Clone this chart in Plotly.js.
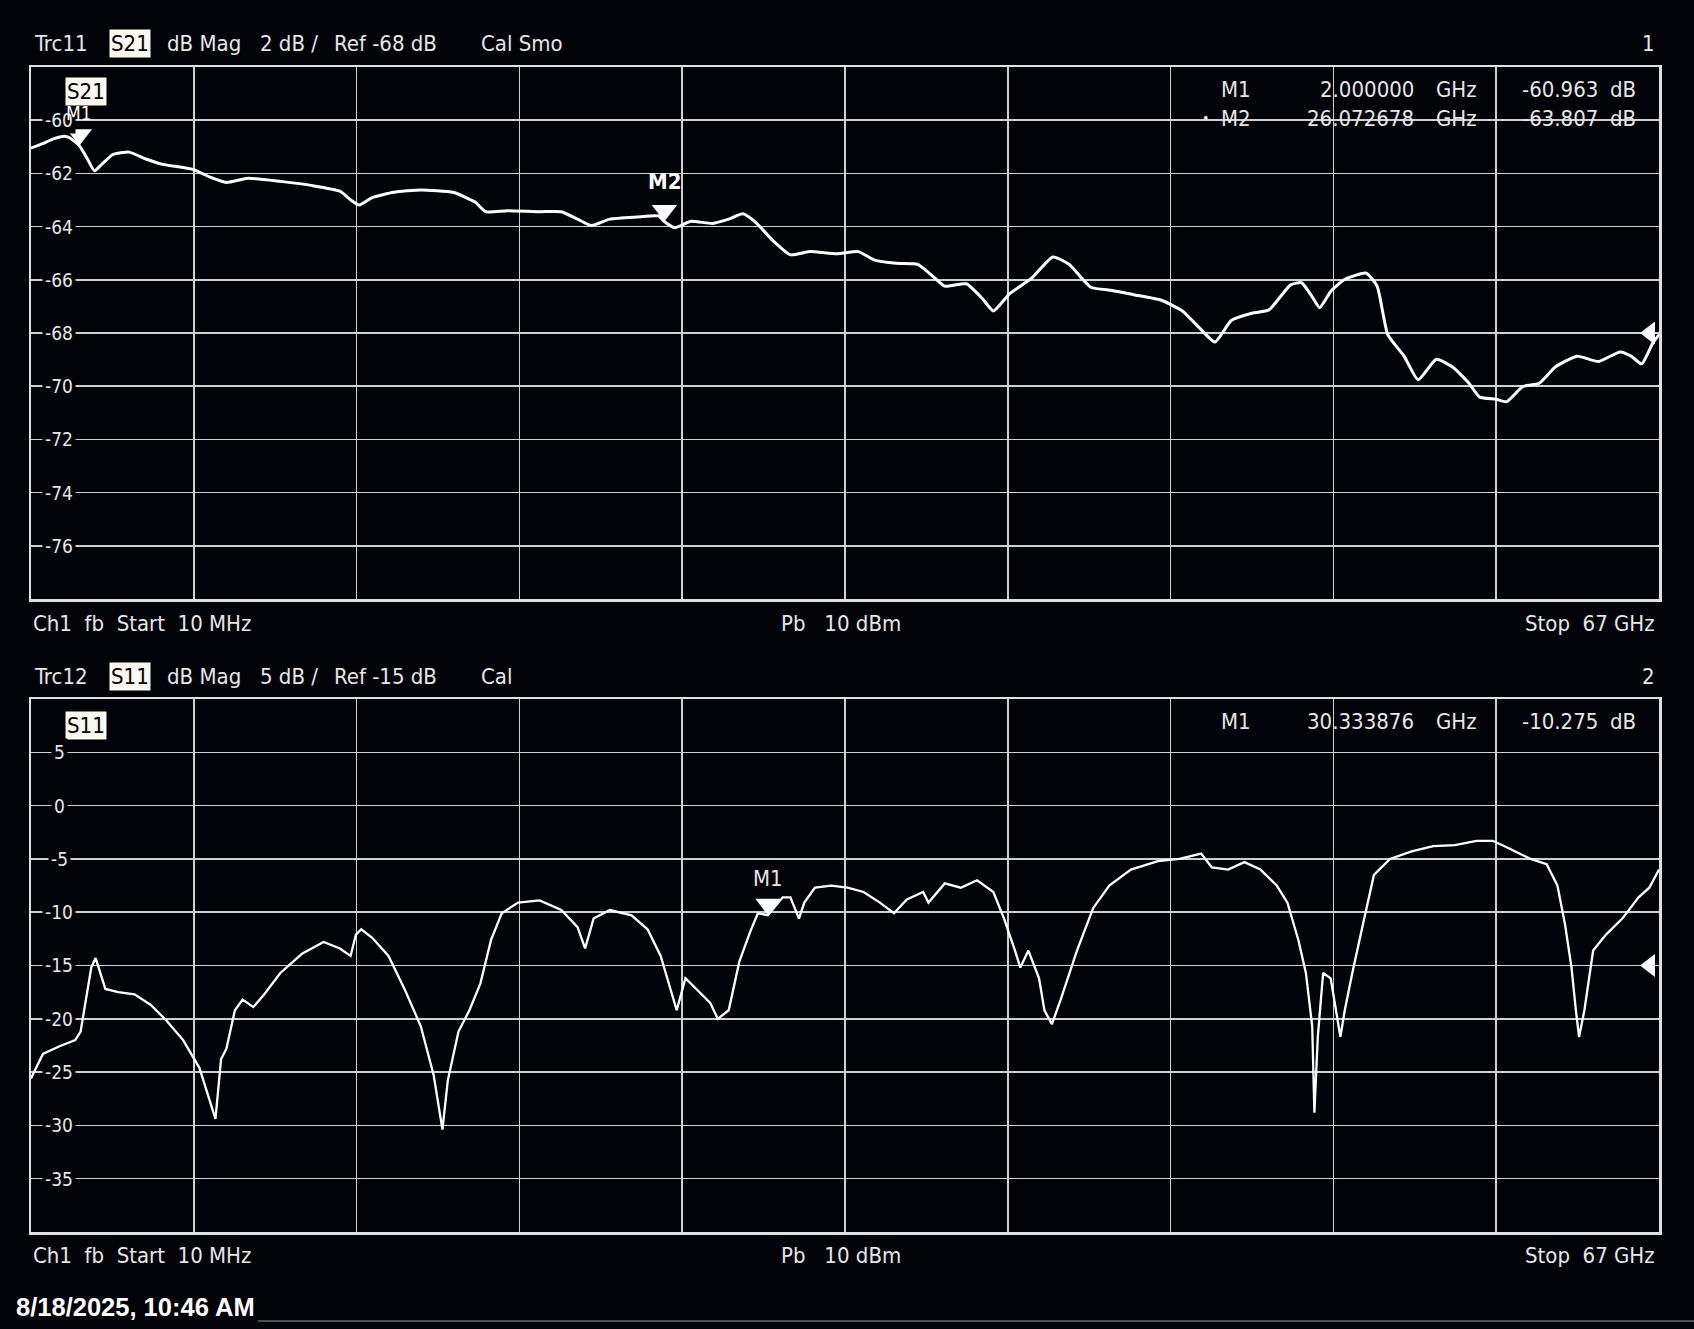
<!DOCTYPE html>
<html>
<head>
<meta charset="utf-8">
<script src="https://cdn.plot.ly/plotly-3.0.1.min.js"></script>
<style>
  html, body { margin:0; padding:0; background:#020308; }
  #chart { width:1694px; height:1329px; }
</style>
</head>
<body>
<div id="chart"></div>
<script>
// ---------------- DATA ----------------
// S21 (Trc11), frequency in GHz, magnitude in dB
const s21Freq = [0.01,0.49,0.93,1.38,1.6,2.0,2.3,2.62,2.93,3.38,4.05,4.71,5.38,6.67,7.38,8.05,8.94,10.27,11.6,12.72,13.16,13.52,14.05,14.94,16.05,17.38,18.27,18.72,19.61,20.94,21.83,22.5,23.07,23.83,24.94,25.83,26.07,26.5,27.17,28.05,28.72,29.3,29.83,30.5,31.26,32.06,33.17,34.06,34.72,35.61,36.5,37.17,37.61,38.5,39.17,39.61,40.28,41.17,42.06,42.73,43.62,44.5,45.39,46.5,47.39,48.06,48.73,49.4,50.28,50.95,51.84,52.29,52.73,53.04,53.49,54.06,54.95,55.4,55.84,56.51,57.09,57.84,58.51,59.18,59.62,60.29,60.73,61.4,62.07,62.73,63.62,64.51,65.4,65.85,66.29,66.74,67.0];
const s21dB   = [-61.05,-60.88,-60.7,-60.6,-60.66,-60.96,-61.4,-61.9,-61.65,-61.29,-61.2,-61.45,-61.65,-61.85,-62.14,-62.34,-62.18,-62.3,-62.46,-62.67,-62.99,-63.19,-62.91,-62.71,-62.62,-62.71,-63.07,-63.44,-63.4,-63.44,-63.44,-63.72,-63.96,-63.72,-63.64,-63.6,-63.81,-64.04,-63.8,-63.88,-63.72,-63.52,-63.84,-64.49,-65.06,-64.94,-65.02,-64.94,-65.26,-65.38,-65.42,-65.91,-66.24,-66.15,-66.72,-67.17,-66.52,-65.95,-65.14,-65.42,-66.28,-66.4,-66.56,-66.76,-67.17,-67.78,-68.34,-67.53,-67.25,-67.13,-66.19,-66.11,-66.64,-67.05,-66.44,-65.99,-65.75,-66.24,-68.06,-68.87,-69.76,-68.99,-69.28,-69.89,-70.41,-70.49,-70.58,-70.01,-69.89,-69.28,-68.87,-69.07,-68.71,-68.87,-69.16,-68.39,-68.06];

// S11 (Trc12)
const s11Freq = [0.01,0.5,1.16,1.83,2.05,2.27,2.49,2.67,2.85,3.07,3.6,4.27,4.94,5.6,6.27,6.94,7.38,7.6,7.83,8.05,8.4,8.72,9.16,9.61,10.27,11.16,12.05,12.72,13.16,13.38,13.6,14.05,14.72,15.38,16.05,16.58,16.94,17.16,17.6,18.05,18.5,18.94,19.38,20.05,20.94,21.83,22.5,22.81,23.16,23.83,24.72,25.38,25.92,26.27,26.58,26.94,27.38,27.96,28.27,28.72,29.16,29.61,29.92,30.33,30.94,31.26,31.61,31.83,32.27,32.94,33.61,34.27,34.94,35.52,36.05,36.72,36.94,37.61,38.27,38.94,39.61,40.05,40.5,40.72,41.05,41.49,41.71,42.02,42.38,43.05,43.72,44.38,45.27,46.38,47.27,48.16,48.6,49.27,49.94,50.6,51.27,51.71,52.16,52.47,52.73,52.82,52.96,53.18,53.49,53.71,53.89,54.07,54.38,54.82,55.27,55.93,56.82,57.71,58.6,59.49,60.16,60.82,61.71,62.38,62.82,63.13,63.4,63.58,63.71,63.93,64.29,64.82,65.49,66.16,66.6,67.0];
const s11dB   = [-25.6,-23.3,-22.6,-22.0,-21.2,-18.2,-15.2,-14.3,-15.7,-17.2,-17.5,-17.7,-18.7,-20.2,-22.0,-24.6,-27.8,-29.4,-23.8,-22.8,-19.2,-18.2,-18.9,-17.7,-15.7,-13.9,-12.8,-13.4,-14.1,-12.1,-11.6,-12.4,-14.1,-17.2,-20.7,-25.3,-30.4,-25.8,-21.2,-19.2,-16.7,-12.6,-10.1,-9.1,-8.9,-9.8,-11.4,-13.4,-10.6,-9.8,-10.3,-11.6,-14.1,-16.7,-19.2,-16.2,-17.2,-18.5,-20.0,-19.2,-14.6,-11.8,-10.1,-10.275,-8.6,-8.6,-10.6,-9.1,-7.7,-7.5,-7.7,-8.1,-9.1,-10.1,-8.8,-8.1,-9.1,-7.3,-7.7,-7.0,-8.1,-10.6,-13.6,-15.2,-13.6,-16.2,-19.2,-20.5,-18.2,-13.6,-9.6,-7.5,-6.0,-5.2,-5.0,-4.5,-5.8,-6.0,-5.3,-6.0,-7.5,-9.1,-12.6,-15.7,-20.7,-28.8,-21.7,-15.7,-16.2,-19.2,-21.7,-19.2,-15.7,-11.1,-6.5,-5.0,-4.3,-3.8,-3.7,-3.3,-3.3,-4.0,-5.0,-5.5,-7.5,-11.1,-15.2,-19.2,-21.7,-19.2,-13.6,-12.1,-10.6,-8.6,-7.7,-6.0];

// Markers
const topMarkerNames = ["M1","M2"];
const topMarkerFreq  = [2.000000, 26.072678];
const topMarkerVal   = [-60.963, -63.807];
const botMarkerNames = ["M1"];
const botMarkerFreq  = [30.333876];
const botMarkerVal   = [-10.275];

// Axis settings / tick labels
const fStart = 0.01, fStop = 67.0;
const topRef = -68, topScale = 2;   // dB, dB/div
const botRef = -15, botScale = 5;
const topTickLabels = [-60,-62,-64,-66,-68,-70,-72,-74,-76];
const botTickLabels = [5,0,-5,-10,-15,-20,-25,-30,-35];

// Texts
const hdrTop = {trc:"Trc11", par:"S21", parts:["dB Mag","2 dB /","Ref -68 dB","Cal Smo"], num:"1"};
const hdrBot = {trc:"Trc12", par:"S11", parts:["dB Mag","5 dB /","Ref -15 dB","Cal"], num:"2"};
const footLeft = "Ch1  fb  Start  10 MHz";
const footMid  = "Pb   10 dBm";
const footRight = "Stop  67 GHz";
const stamp = "8/18/2025, 10:46 AM";

// ---------------- LAYOUT HELPERS ----------------
const W = 1694, H = 1329;
const ML = 31, MR = 35, MT = 67, MB = 97;
const PW = W - ML - MR, PH = H - MT - MB;
const px2x = p => (p - ML) / PW;
const py2y = p => (H - MB - p) / PH;
const topDomain = [py2y(599), 1];
const botDomain = [0, py2y(699)];
const topRange = [topRef - 5*topScale, topRef + 5*topScale];
const botRange = [botRef - 5*botScale, botRef + 5*botScale];
const topPxPerDb = (599-67) / (topRange[1]-topRange[0]);
const botPxPerDb = (1232-699) / (botRange[1]-botRange[0]);
const ghzPerPx = (fStop - fStart) / PW;

const BG = "#020308";
const FG = "#e6e6e6";
const GRID = "#cfcfcf";
const FONT = "'Liberation Sans Narrow', 'Arial Narrow', 'DejaVu Sans Condensed', sans-serif";
const FS = 22;
const TRI = 22;             // marker triangle size
const triOff = TRI / 2;     // px from centre to tip
const topLabelShift = [20, 25];
const botLabelShift = [22];

const traces = [
  {x: s21Freq, y: s21dB, xaxis:"x", yaxis:"y", mode:"lines",
   line:{color:"#ffffff", width:3, shape:"spline", smoothing:0.5}, hoverinfo:"skip"},
  {x: s11Freq, y: s11dB, xaxis:"x2", yaxis:"y2", mode:"lines",
   line:{color:"#ffffff", width:2.3}, hoverinfo:"skip"},
  {x: topMarkerFreq, y: topMarkerVal.map(v => v + triOff/topPxPerDb), xaxis:"x", yaxis:"y",
   mode:"markers", marker:{symbol:"triangle-down", size:TRI, color:"#ffffff"}, hoverinfo:"skip", cliponaxis:false},
  {x: botMarkerFreq, y: botMarkerVal.map(v => v + triOff/botPxPerDb), xaxis:"x2", yaxis:"y2",
   mode:"markers", marker:{symbol:"triangle-down", size:TRI, color:"#ffffff"}, hoverinfo:"skip", cliponaxis:false},
  {x:[fStop - 9*ghzPerPx], y:[topRef], xaxis:"x", yaxis:"y", mode:"markers",
   marker:{symbol:"triangle-left", size:20, color:"#ffffff"}, hoverinfo:"skip", cliponaxis:false},
  {x:[fStop - 9*ghzPerPx], y:[botRef], xaxis:"x2", yaxis:"y2", mode:"markers",
   marker:{symbol:"triangle-left", size:20, color:"#ffffff"}, hoverinfo:"skip", cliponaxis:false}
];

const xCommon = {
  range:[fStart, fStop], tick0:fStart, dtick:(fStop-fStart)/10,
  showgrid:true, gridcolor:GRID, gridwidth:1.5, zeroline:false,
  showline:true, linecolor:"#e0e0e0", linewidth:2.5, mirror:true,
  showticklabels:false, ticks:"", fixedrange:true
};
const yCommon = {
  showgrid:true, gridcolor:GRID, gridwidth:1.5, zeroline:false,
  showline:true, linecolor:"#e0e0e0", linewidth:2.5, mirror:true,
  showticklabels:false, ticks:"", fixedrange:true
};

const ann = [];
function txt(text, px, py, opts) {
  ann.push(Object.assign({
    text:text, x:px2x(px), y:py2y(py), xref:"paper", yref:"paper",
    xanchor:"left", yanchor:"middle", showarrow:false,
    font:{family:FONT, size:FS, color:FG}
  }, opts || {}));
}
const partPx = [165, 258, 332, 479];
function header(h, py) {
  txt(h.trc, 32, py);
  txt(h.par, 109, py, {bgcolor:"#fbf8f0", font:{family:FONT, size:FS, color:"#000000"}, borderpad:1});
  h.parts.forEach((p,i) => txt(p, partPx[i], py));
  txt(h.num, 1657, py, {xanchor:"right"});
}
header(hdrTop, 44);
header(hdrBot, 676);
function footer(py) {
  txt(footLeft, 31, py);
  txt(footMid, 841, py, {xanchor:"center"});
  txt(footRight, 1657, py, {xanchor:"right"});
}
footer(623);
footer(1255);
txt(stamp, 14, 1307, {font:{family:"'Liberation Sans', Arial, sans-serif", size:25.5, color:"#ffffff", weight:"bold"}});

txt("S21", 65, 92, {bgcolor:"#fbf8f0", font:{family:FONT, size:FS, color:"#000000"}, borderpad:1});
txt("S11", 65, 725, {bgcolor:"#fbf8f0", font:{family:FONT, size:FS, color:"#000000"}, borderpad:1});

topTickLabels.forEach(v => ann.push({text:String(v), x:px2x(59), y:v, xref:"paper", yref:"y",
  xanchor:"center", yanchor:"middle", showarrow:false, bgcolor:BG, borderpad:2,
  font:{family:FONT, size:19, color:FG}}));
botTickLabels.forEach(v => ann.push({text:String(v), x:px2x(59), y:v, xref:"paper", yref:"y2",
  xanchor:"center", yanchor:"middle", showarrow:false, bgcolor:BG, borderpad:2,
  font:{family:FONT, size:19, color:FG}}));

topMarkerNames.forEach((n,i) => ann.push({text: i===1 ? "<b>"+n+"</b>" : n,
  x: topMarkerFreq[i], y: topMarkerVal[i], xref:"x", yref:"y", xanchor:"center", yanchor:"bottom",
  yshift: topLabelShift[i], showarrow:false, font:{family:FONT, size: i===1 ? FS : 19, color:"#ffffff"}}));
botMarkerNames.forEach((n,i) => ann.push({text:n,
  x: botMarkerFreq[i], y: botMarkerVal[i], xref:"x2", yref:"y2", xanchor:"center", yanchor:"bottom",
  yshift: botLabelShift[i], showarrow:false, font:{family:FONT, size:FS, color:FG}}));

function tableRow(name, f, v, py, active) {
  if (active) txt("•", 1205, py, {xanchor:"center", font:{family:FONT, size:14, color:FG}});
  txt(name, 1219, py);
  txt(f.toFixed(6), 1416, py, {xanchor:"right"});
  txt("GHz", 1434, py);
  txt(v.toFixed(3), 1600, py, {xanchor:"right"});
  txt("dB", 1608, py);
}
topMarkerNames.forEach((n,i) => tableRow(n, topMarkerFreq[i], topMarkerVal[i], 89 + i*29, i===1));
botMarkerNames.forEach((n,i) => tableRow(n, botMarkerFreq[i], botMarkerVal[i], 721 + i*29, false));

const layout = {
  width:W, height:H,
  paper_bgcolor:BG, plot_bgcolor:BG,
  margin:{l:ML, r:MR, t:MT, b:MB, pad:0},
  showlegend:false,
  xaxis: Object.assign({}, xCommon, {anchor:"y", domain:[0,1]}),
  yaxis: Object.assign({}, yCommon, {anchor:"x", domain:topDomain, range:topRange, dtick:topScale, tick0:topRef}),
  xaxis2: Object.assign({}, xCommon, {anchor:"y2", domain:[0,1]}),
  yaxis2: Object.assign({}, yCommon, {anchor:"x2", domain:botDomain, range:botRange, dtick:botScale, tick0:botRef}),
  annotations: ann,
  shapes:[
    {type:"line", xref:"paper", yref:"paper", x0:px2x(258), x1:px2x(1694), y0:py2y(1321), y1:py2y(1321),
     line:{color:"#9a9a9a", width:1}}
  ]
};

Plotly.newPlot("chart", traces, layout, {staticPlot:true, displayModeBar:false});
</script>
</body>
</html>
